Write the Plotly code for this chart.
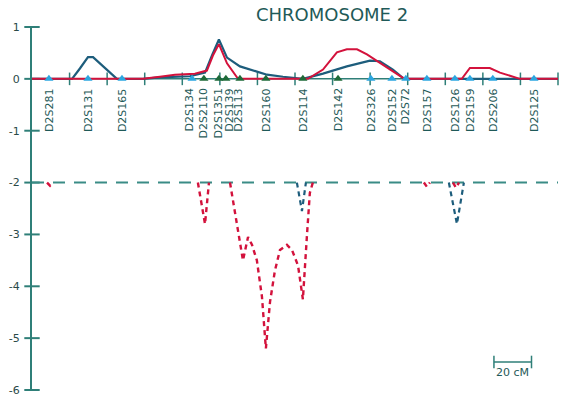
import plotly.graph_objects as go

# Marker map of chromosome 2 (positions in cM)
marker_names = ["D2S281", "D2S131", "D2S165", "D2S134", "D2S2110", "D2S1351",
                "D2S139", "D2S113", "D2S160", "D2S114", "D2S142", "D2S326",
                "D2S152", "D2S72", "D2S157", "D2S126", "D2S159", "D2S206", "D2S125"]
marker_pos = [9.0, 29.8, 47.9, 85.2, 91.5, 99.5, 103.2, 110.7, 124.5, 144.2,
              162.9, 180.4, 191.6, 199.0, 210.2, 225.1, 233.1, 245.3, 267.2]
marker_group = ["a", "a", "a", "a", "b", "b", "b", "b", "b", "b",
                "b", "a", "a", "a", "a", "a", "a", "a", "a"]

# Positive scores (upper panel)
blue_x = [0, 21.3, 25.5, 29.8, 32.5, 38.9, 45.2, 59.1, 68.1, 84.1, 92.1, 95.8,
          99.5, 103.8, 110.7, 119.7, 125.1, 133.6, 138.9, 144.2, 154.9, 167.6,
          179.9, 185.2, 192.1, 197.4, 199.0, 280]
blue_y = [0, 0, 0.2, 0.42, 0.42, 0.2, 0, 0, 0.03, 0.05, 0.12, 0.45,
          0.76, 0.41, 0.24, 0.14, 0.08, 0.04, 0.02, 0, 0.1, 0.24,
          0.35, 0.34, 0.18, 0.02, 0, 0]

red_x = [0, 59.1, 68.1, 76.1, 86.7, 93.1, 96.3, 99.5, 103.8, 109.1, 110.7,
         146.9, 154.9, 162.3, 167.6, 173.0, 178.3, 185.2, 192.1, 197.4, 199.0,
         228.8, 233.1, 243.7, 249.1, 256.0, 259.7, 280]
red_y = [0, 0, 0.04, 0.08, 0.1, 0.16, 0.45, 0.67, 0.3, 0.03, 0,
         0, 0.18, 0.51, 0.57, 0.57, 0.47, 0.31, 0.14, 0.02, 0,
         0, 0.21, 0.21, 0.12, 0.04, 0, 0]

# Negative scores (lower panel, baseline -2)
BASE = -2
red_low_x = [0, 8.0, 9.6, 11.2, 88.3, 92.1, 94.2, 105.4, 110.7, 112.3, 115.0,
             117.1, 119.7, 122.4, 124.5, 126.7, 129.3, 132.0, 135.7, 138.4,
             141.6, 144.2, 146.4, 147.9, 149.5, 208.6, 210.2, 211.8, 224.1,
             225.7, 227.3, 280]
red_low_y = [-2, -2, -2.06, -2, -2, -2.8, -2, -2, -3.1, -3.5, -3.05,
             -3.2, -3.5, -4.2, -5.2, -4.3, -3.7, -3.3, -3.2, -3.3,
             -3.6, -4.25, -3.0, -2.2, -2, -2, -2.08, -2, -2,
             -2.1, -2, -2]

blue_low_x = [0, 141.0, 143.7, 145.8, 221.9, 226.2, 229.9, 280]
blue_low_y = [-2, -2, -2.55, -2, -2, -2.8, -2, -2]

x_ticks = [20, 40, 60, 80, 100, 120, 140, 160, 180, 200, 220, 240, 260, 280]
y_ticks = [1, 0, -1, -2, -3, -4, -5, -6]
scale_start, scale_len = 245.9, 20

AXIS = "#2f7f78"
TEXT = "#1f5a58"
BLUE = "#1d5d7c"
RED = "#d3123c"
CYAN = "#2ba6e0"
GREEN = "#1e6a38"


def excursions(xs, ys, base):
    """Break the curve wherever it runs flat along the baseline."""
    ox, oy = [xs[0]], [ys[0]]
    for i in range(1, len(xs)):
        if ys[i - 1] == base and ys[i] == base:
            ox.append(None)
            oy.append(None)
        ox.append(xs[i])
        oy.append(ys[i])
    return ox, oy


fig = go.Figure()

# axis line along y = 0 with crossing ticks
fig.add_trace(go.Scatter(x=[0, x_ticks[-1]], y=[0, 0], mode="lines",
                         line=dict(color=AXIS, width=1.5), hoverinfo="skip"))
fig.add_trace(go.Scatter(x=x_ticks, y=[0] * len(x_ticks), mode="markers",
                         marker=dict(symbol="line-ns", size=9,
                                     line=dict(color=AXIS, width=1.5)),
                         cliponaxis=False, hoverinfo="skip"))
# crossing ticks on the y axis
fig.add_trace(go.Scatter(x=[0] * len(y_ticks), y=y_ticks, mode="markers",
                         marker=dict(symbol="line-ew", size=11,
                                     line=dict(color=AXIS, width=2)),
                         cliponaxis=False, hoverinfo="skip"))

# dashed baseline
fig.add_trace(go.Scatter(x=[0, 280], y=[BASE, BASE], mode="lines",
                         line=dict(color="#3a8c86", width=2, dash="12px,9px")))

# lower dashed curves
rx, ry = excursions(red_low_x, red_low_y, BASE)
fig.add_trace(go.Scatter(x=rx, y=ry, mode="lines", connectgaps=False,
                         line=dict(color=RED, width=2.4, dash="5px,4px")))
bx, by = excursions(blue_low_x, blue_low_y, BASE)
fig.add_trace(go.Scatter(x=bx, y=by, mode="lines", connectgaps=False,
                         line=dict(color=BLUE, width=2.2, dash="5px,4px")))

# upper curves
fig.add_trace(go.Scatter(x=blue_x, y=blue_y, mode="lines",
                         line=dict(color=BLUE, width=2.2)))
fig.add_trace(go.Scatter(x=red_x, y=red_y, mode="lines",
                         line=dict(color=RED, width=2)))

# marker triangles
colors = [CYAN if g == "a" else GREEN for g in marker_group]
fig.add_trace(go.Scatter(x=marker_pos, y=[0] * len(marker_pos), mode="markers",
                         marker=dict(symbol="triangle-up", size=8, color=colors),
                         cliponaxis=False))

# marker labels (small nudges keep crowded names apart)
nudge = {"D2S139": 1.5, "D2S113": -1.2, "D2S134": -1.5}
for name, pos in zip(marker_names, marker_pos):
    fig.add_annotation(x=pos + nudge.get(name, 0), y=-0.15, text=name,
                       textangle=-90, showarrow=False, xanchor="center",
                       yanchor="top",
                       font=dict(family="DejaVu Sans", size=11, color=TEXT))

# scale bar
sb_y = -5.46
fig.add_trace(go.Scatter(x=[scale_start, scale_start + scale_len], y=[sb_y, sb_y],
                         mode="lines+markers", line=dict(color=AXIS, width=1.5),
                         marker=dict(symbol="line-ns", size=9,
                                     line=dict(color=AXIS, width=1.5))))
fig.add_annotation(x=scale_start + scale_len / 2, y=sb_y - 0.04, text="20 cM",
                   showarrow=False, yanchor="top",
                   font=dict(family="DejaVu Sans", size=11, color=TEXT))

fig.add_annotation(xref="paper", yref="paper", x=0.57, y=1.035,
                   text="CHROMOSOME 2", showarrow=False,
                   yanchor="middle",
                   font=dict(family="DejaVu Sans", size=18, color=TEXT))

fig.update_layout(
    width=562, height=401,
    margin=dict(l=32, r=4, t=27, b=11),
    paper_bgcolor="white", plot_bgcolor="white",
    showlegend=False,
    xaxis=dict(range=[0, 280], showgrid=False, zeroline=False,
               showticklabels=False, showline=False, ticks=""),
    yaxis=dict(range=[-6, 1], showgrid=False, zeroline=False,
               showline=True, linecolor=AXIS, linewidth=2,
               tickvals=y_ticks, ticktext=[str(v) for v in y_ticks],
               ticks="", ticklabelstandoff=8,
               tickfont=dict(family="DejaVu Sans", size=11, color="#2a4a48")),
)

fig.write_html("out.html")
